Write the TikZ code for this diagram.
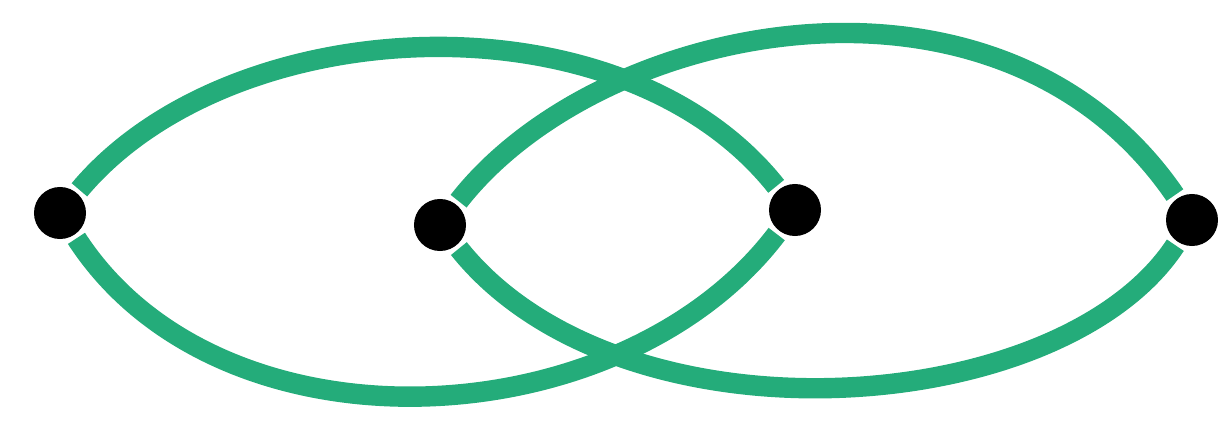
\documentclass[tikz,border=0pt]{standalone}
\usetikzlibrary{calc}
\definecolor{lensgreen}{RGB}{36,172,122}

\begin{document}
\begin{tikzpicture}[x=0.025cm, y=-0.025cm,
    dot/.style={circle, fill=black, minimum size=1.3cm, inner sep=0pt, outer sep=3pt},
    arc/.style={lensgreen, line width=14.5pt}]
\useasboundingbox (0,0) rectangle (1219,427);
\foreach \n/\x/\y in {a/60/213, b/440/225, c/795/210, d/1192/220} {
    \node[dot] (\n) at (\x,\y) {};
}
\draw[arc] (a) .. controls (230,10) and (620,-10) .. (c);
\draw[arc] (a) .. controls (220,460) and (620,440) .. (c);
\draw[arc] (b) .. controls (600,20) and (1000,-60) .. (d);
\draw[arc] (b) .. controls (620,450) and (1060,420) .. (d);
\end{tikzpicture}
\end{document}
